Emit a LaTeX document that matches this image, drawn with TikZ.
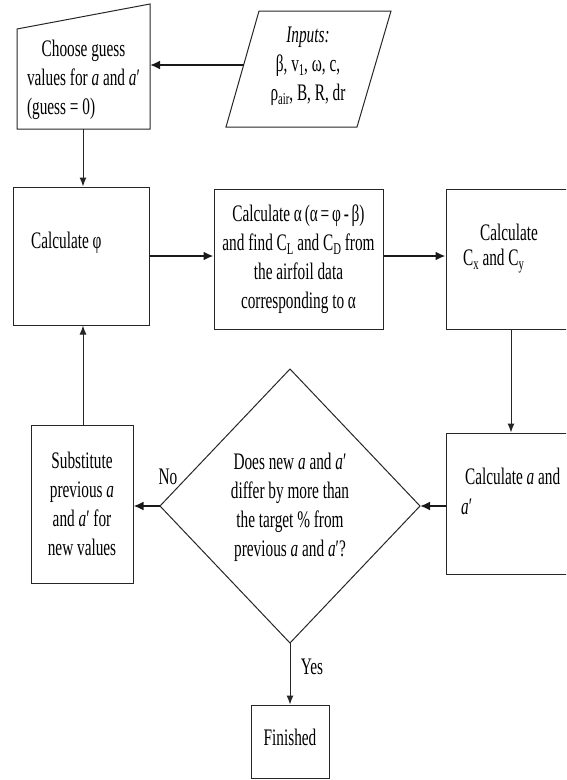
\documentclass[tikz,border=0pt]{standalone}
\usepackage{fontspec}
\setmainfont[FakeStretch=0.645]{Liberation Serif}
\usetikzlibrary{arrows.meta}
\newcommand\lowtxt[1]{\raisebox{-4.3pt}{\fontsize{16.5}{16.5}\selectfont #1}}
\newcommand\ita{\textit{a}}
\newcommand\itap{\textit{a}′}
\begin{document}
\begin{tikzpicture}[x=1pt,y=-1pt,
  every node/.style={font=\fontsize{23.7}{29}\selectfont, inner sep=0pt},
  box/.style={draw=black!85, line width=1pt},
  thinarrow/.style={draw=black!85, line width=1pt, -{Latex[length=9pt,width=7pt]}},
  thickarrow/.style={draw=black!90, line width=2pt, -{Latex[length=10pt,width=9pt]}}]
\clip (0,0) rectangle (566,780);

% Choose guess (manual input shape)
\draw[box] (17,129) -- (150,129) -- (150,4) -- (17,29) -- cycle;
\coordinate (chooseE) at (150,65);
\coordinate (chooseS) at (83,129);
\node (choose) at (83.5,80) {\begin{tabular}{@{}l@{}}\multicolumn{1}{@{}c@{}}{Choose guess}\\ values for \ita{} and \itap\\ (guess = 0)\end{tabular}};

% Inputs (parallelogram)
\draw[box] (226,127) -- (357,127) -- (391,11) -- (259,11) -- cycle;
\coordinate (inW) at (243.5,65);
\node[align=center] (inp) at (308,66) {\textit{Inputs:}\\ β, v\lowtxt{1}, ω, c,\\ ρ\lowtxt{air}, B, R, dr};

% Calculate phi
\node[box, minimum width=136pt, minimum height=138pt] (phi) at (81,256) {};
\node[anchor=west] (phiT) at (31,243) {Calculate φ};

% Calculate alpha
\node[box, minimum width=169pt, minimum height=140pt, align=center] (alpha) at (298.5,259)
  {Calculate α\kern-1pt\ (α\kern-1pt\ =\kern-1pt\ φ\kern-1pt\ -\kern-1pt\ β)\\ and find C\lowtxt{L} and C\lowtxt{D} from\\ the airfoil data\\ corresponding to α};

% Calculate Cx and Cy
\node[box, minimum width=144pt, minimum height=140pt] (cxy) at (518,259) {};
\node[anchor=west] (cxyT1) at (480,232) {Calculate};
\node[anchor=west] (cxyT2) at (463,261) {C\lowtxt{x} and C\lowtxt{y}};

% Calculate a and a'
\node[box, minimum width=144pt, minimum height=141pt] (calca) at (518,503.5) {};
\node[anchor=west] (calcaT1) at (465,476) {Calculate \ita{} and};
\node[anchor=west] (calcaT2) at (461,507) {\itap};

% Decision diamond
\draw[box] (290,369) coordinate (diaN) -- (420,506) coordinate (diaE)
  -- (290,643) coordinate (diaS) -- (160,506) coordinate (diaW) -- cycle;
\node[align=center] (dia) at (290,507.5) {Does new \ita{} and \itap\\ differ by more than\\ the target \% from\\ previous \ita{} and \itap?};

% Substitute
\node[box, minimum width=102pt, minimum height=158pt, align=center] (sub) at (82,504)
  {Substitute\\ previous \ita\\ and \itap{} for\\ new values};

% Finished
\node[box, minimum width=78pt, minimum height=73pt] (fin) at (290,741.5) {};
\node (finT) at (290,737) {Finished};

% Labels
\node (no) at (168,477) {No};
\node (yes) at (312,667) {Yes};

% Connectors
\draw[thickarrow] (inW) -- (chooseE);
\draw[thinarrow] (chooseS) -- (chooseS |- phi.north);
\draw[thickarrow] (phi.east) -- (phi.east -| alpha.west);
\draw[thickarrow] (phi.east -| alpha.east) -- (phi.east -| cxy.west);
\draw[thinarrow] ([xshift=-7pt]cxy.south) -- ([xshift=-7pt]calca.north);
\draw[thickarrow] (diaE -| calca.west) -- (diaE);
\draw[thickarrow] (diaW) -- (diaW -| sub.east);
\draw[thinarrow] ([xshift=1pt]sub.north) -- ([xshift=1pt]sub.north |- phi.south);
\draw[thinarrow] (diaS) -- (fin.north);
\end{tikzpicture}
\end{document}
